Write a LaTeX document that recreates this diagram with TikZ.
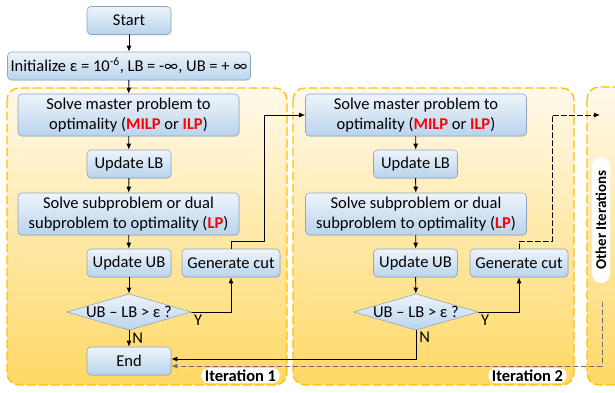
\documentclass[tikz,border=0pt]{standalone}
\usepackage{fontspec}
\setmainfont{Carlito}
\usetikzlibrary{arrows.meta,shapes.geometric,shadows,positioning}

\definecolor{boxline}{HTML}{8FA7BE}
\definecolor{boxtop}{HTML}{EEF4FB}
\definecolor{boxbot}{HTML}{B9D3EC}
\definecolor{iterline}{HTML}{FFC000}
\definecolor{itertop}{HTML}{FFF9EA}
\definecolor{iterbot}{HTML}{FFD865}
\definecolor{lpred}{HTML}{FF0000}
\definecolor{returngray}{HTML}{707070}

\newcommand{\hl}[1]{\textcolor{lpred}{\textbf{#1}}}

\begin{document}
\begin{tikzpicture}[
    x=1pt,y=-1pt,
    font=\fontsize{16.5}{20}\selectfont,
    line cap=round,
    line join=round,
    >={Latex[length=6pt,width=5pt]},
    flowbox/.style={
        draw=boxline,
        line width=0.6pt,
        rounded corners=4pt,
        top color=boxtop,
        bottom color=boxbot,
        align=center,
        inner sep=0pt,
        drop shadow={opacity=0.15,shadow xshift=0.6pt,shadow yshift=-1pt}
    },
    smallbox/.style={flowbox,minimum width=84pt,minimum height=28pt},
    widebox/.style={flowbox,minimum width=221pt,minimum height=42pt},
    cutbox/.style={flowbox,minimum width=98pt,minimum height=28pt},
    checkbox/.style={
        diamond,
        aspect=3.44,
        draw=boxline,
        line width=0.6pt,
        top color=boxtop,
        bottom color=boxbot,
        minimum width=124pt,
        minimum height=36pt,
        inner sep=0pt
    },
    iterframe/.style={
        draw=iterline,
        line width=1.3pt,
        dash pattern=on 8pt off 4pt,
        rounded corners=12pt,
        top color=itertop,
        bottom color=iterbot
    },
    iterlabel/.style={
        fill=white,
        rounded corners=7pt,
        font=\fontsize{16.5}{18}\selectfont\bfseries,
        inner sep=0pt,
        minimum height=15pt
    },
    flow/.style={->,line width=0.9pt},
    loopflow/.style={flow,dash pattern=on 5pt off 3pt}
]

\useasboundingbox (0,0) rectangle (615,392);

% iteration frames
\shade[iterframe] (7,88) rectangle (287,385);
\shade[iterframe] (293,88) rectangle (574,385);
\shade[iterframe] (587,87) rectangle (650,385);

% set-up
\node[smallbox] (start) at (129,20.5) {Start};
\node[flowbox,minimum width=243pt,minimum height=28pt] (init) at (129,66)
    {Initialize ε = 10\textsuperscript{-6}, LB = -∞, UB = + ∞};

% iteration 1
\node[widebox] (master1) at (128.5,115) {Solve master problem to\\optimality (\hl{MILP} or \hl{ILP})};
\node[smallbox] (lb1) at (129,164) {Update LB};
\node[widebox] (sub1) at (128.5,214) {Solve subproblem or dual\\subproblem to optimality (\hl{LP})};
\node[smallbox] (ub1) at (129,263) {Update UB};
\node[cutbox] (cut1) at (231,263) {Generate cut};
\node[checkbox] (check1) at (129,312) {UB – LB > ε ?};
\node[smallbox] (end) at (129,361) {End};
\node[iterlabel,minimum width=78pt] (label1) at (240.5,375.5) {Iteration 1};

% iteration 2
\node[widebox] (master2) at (416,115) {Solve master problem to\\optimality (\hl{MILP} or \hl{ILP})};
\node[smallbox] (lb2) at (415.5,164) {Update LB};
\node[widebox] (sub2) at (416,214) {Solve subproblem or dual\\subproblem to optimality (\hl{LP})};
\node[smallbox] (ub2) at (415.5,263) {Update UB};
\node[cutbox] (cut2) at (519,263) {Generate cut};
\node[checkbox] (check2) at (416,312) {UB – LB > ε ?};
\node[iterlabel,minimum width=78pt] (label2) at (527.5,375.5) {Iteration 2};

% other iterations
\node[iterlabel,rotate=90,minimum width=126pt,minimum height=18pt,rounded corners=9pt,
      font=\fontsize{15}{17}\selectfont\bfseries] (other) at (601,220) {Other Iterations};

\coordinate (bend1) at (264,241);
\coordinate (bend2) at (552,241);
\coordinate (otherin) at (600,115);
\coordinate (otherout) at (602,302);

% connectors
\draw[flow] (start) -- (init);
\draw[flow] (init) -- (master1);
\draw[flow] (master1) -- (lb1);
\draw[flow] (lb1) -- (sub1);
\draw[flow] (sub1) -- (ub1);
\draw[flow] (ub1) -- (check1);
\draw[flow] (check1) -- node[right,inner sep=3pt] {N} (end);
\draw[flow] (check1.east) -| node[at start,below right,inner sep=2pt] {Y} (cut1.south);
\draw[flow] (cut1.north) |- (bend1) |- (master2.west);

\draw[flow] (master2) -- (lb2);
\draw[flow] (lb2) -- (sub2);
\draw[flow] (sub2) -- (ub2);
\draw[flow] (ub2) -- (check2);
\draw[flow] (check2.east) -| node[at start,below right,inner sep=2pt] {Y} (cut2.south);
\draw[loopflow] (cut2.north) |- (bend2) |- (otherin);
\draw[flow] (check2.south) |- node[pos=0.12,right,inner sep=3pt] {N} ([yshift=2pt]end.east);

\draw[loopflow,returngray] (otherout) |- ([yshift=-5pt]end.east);

\end{tikzpicture}
\end{document}
